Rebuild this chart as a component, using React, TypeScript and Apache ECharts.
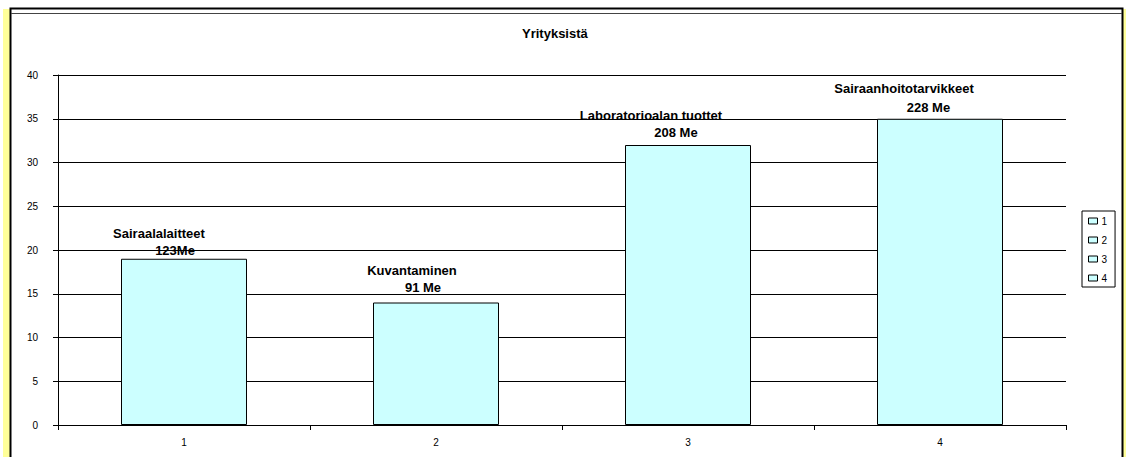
import React, { useEffect, useRef } from "react";
import * as echarts from "echarts";

const categories = ["1", "2", "3", "4"];
const values = [19, 14, 32, 35];
const labelTitles = ["Sairaalalaitteet", "Kuvantaminen", "Laboratorioalan tuottet", "Sairaanhoitotarvikkeet"];
const labelAmounts = ["123Me", "91 Me", "208 Me", "228 Me"];
const yTicks = { min: 0, max: 40, interval: 5 };
const titleText = "Yrityksistä";

// label layout tweaks (offset x, second-line pad, distance, lineHeight)
const labelOffsetX = [-25, -24, -37, -36];
const labelPad = [32, 22, 50, 49];
const labelDist = [0, 6.5, 4.5, 1.5];
const labelLineH = [17, 17, 17, 19];

const FONT = "'Liberation Sans', Arial, sans-serif";

export default function App() {
  const ref = useRef<HTMLDivElement>(null);
  useEffect(() => {
    if (!ref.current) return;
    const chart = echarts.init(ref.current, undefined, { renderer: "svg" });
    const series = categories.map((c, i) => ({
      type: "bar",
      name: c,
      stack: "all",
      barWidth: "50%",
      data: categories.map((_, j) => (j === i ? values[j] : null)),
      itemStyle: { color: "#ccffff", borderColor: "#000", borderWidth: 1 },
      label: {
        show: true,
        position: "top",
        distance: labelDist[i],
        offset: [labelOffsetX[i], 0],
        formatter: `{a|${labelTitles[i]}}\n{b|${labelAmounts[i]}}`,
        rich: {
          a: { fontFamily: FONT, fontSize: 13, fontWeight: "bold", color: "#000", lineHeight: labelLineH[i] },
          b: { fontFamily: FONT, fontSize: 13, fontWeight: "bold", color: "#000", lineHeight: labelLineH[i], padding: [0, 0, 0, labelPad[i]] },
        },
      },
    }));
    chart.setOption({
      animation: false,
      backgroundColor: "#fff",
      textStyle: { fontFamily: FONT },
      graphic: [
        { type: "rect", z: -10, silent: true, shape: { x: 3, y: 9, width: 1123, height: 460 }, style: { fill: "#ffff99" } },
        { type: "rect", z: -9, silent: true, shape: { x: 10.5, y: 8.5, width: 1112, height: 470 }, style: { fill: "#fff", stroke: "#000", lineWidth: 2 } },
        { type: "line", z: -8, silent: true, shape: { x1: 11, y1: 13.5, x2: 1122, y2: 13.5 }, style: { stroke: "#444", lineWidth: 1 } },
      ],
      title: {
        text: titleText,
        left: 522,
        top: 27,
        padding: 0,
        textStyle: { fontFamily: FONT, fontSize: 13, fontWeight: "bold", color: "#000" },
      },
      legend: {
        orient: "vertical",
        left: 1082,
        top: 211,
        padding: [4, 8, 3, 6],
        itemGap: 7,
        itemWidth: 9,
        itemHeight: 6,
        icon: "rect",
        borderColor: "#000",
        borderWidth: 1,
        itemStyle: { color: "#ccffff", borderColor: "#000", borderWidth: 1 },
        textStyle: { fontFamily: FONT, fontSize: 10, color: "#000", lineHeight: 12, padding: [0, 0, 0, -1] },
        data: categories,
      },
      grid: { left: 58, right: 60, top: 75, bottom: 32 },
      xAxis: {
        type: "category",
        data: categories,
        axisLine: { lineStyle: { color: "#000", width: 1 } },
        axisTick: { show: true, length: 5, lineStyle: { color: "#000" } },
        axisLabel: { fontFamily: FONT, fontSize: 10, color: "#000", margin: 12 },
      },
      yAxis: {
        type: "value",
        min: yTicks.min,
        max: yTicks.max,
        interval: yTicks.interval,
        axisLine: { show: true, lineStyle: { color: "#000", width: 1 } },
        axisTick: { show: true, length: 5, lineStyle: { color: "#000" } },
        splitLine: { show: true, lineStyle: { color: "#000", width: 1 } },
        axisLabel: { fontFamily: FONT, fontSize: 10, color: "#000", margin: 20 },
      },
      series,
    });
    return () => chart.dispose();
  }, []);
  return (
    <div style={{ position: "fixed", left: 0, top: 0, width: 1126, height: 457, background: "#fff" }}>
      <div ref={ref} style={{ width: 1126, height: 457 }} />
    </div>
  );
}
